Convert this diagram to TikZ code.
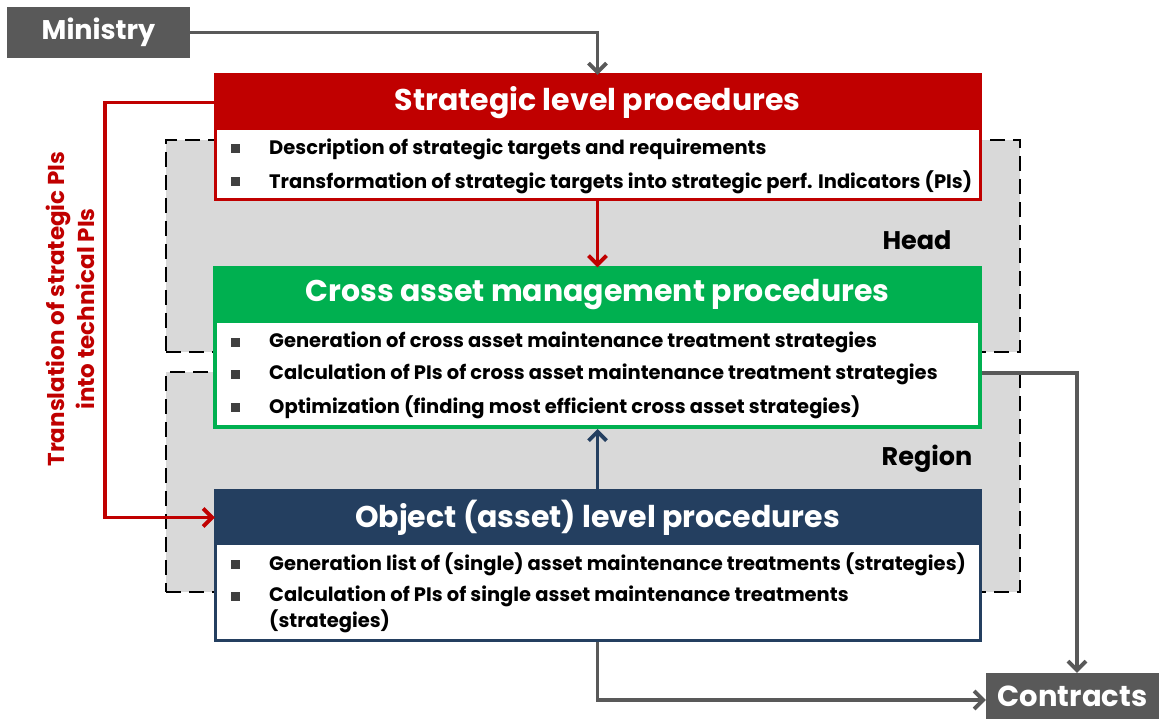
\documentclass[tikz,border=0pt]{standalone}
\usepackage{fontspec}
\setmainfont{Poppins}
\usetikzlibrary{arrows.meta,calc}
\definecolor{cred}{HTML}{C00000}
\definecolor{cgreen}{HTML}{00B050}
\definecolor{cnavy}{HTML}{243F60}
\definecolor{cgray}{HTML}{595959}
\definecolor{cregion}{HTML}{D9D9D9}
\definecolor{cbul}{HTML}{404040}
\tikzset{
  box/.style={draw=#1, line width=3pt, fill=white, minimum width=765pt, inner sep=0pt},
  header/.style={fill=#1, minimum width=765pt, minimum height=55pt, inner sep=0pt, text=white,
    font=\bfseries\fontsize{30}{32}\selectfont},
  zone/.style={draw=black, fill=cregion, line width=2.2pt, dash pattern=on 15pt off 8pt},
  zonelabel/.style={font=\bfseries\fontsize{25.5}{28}\selectfont, text=black, inner sep=0pt},
  bul/.style={fill=cbul, minimum size=9pt, inner sep=0pt},
  btxt/.style={anchor=west, inner sep=0pt, align=left, text=black,
    font=\bfseries\fontsize{19.5}{26}\selectfont},
  graybox/.style={fill=cgray, inner sep=0pt, text=white},
  conn/.style={line width=3.8pt, draw=#1, -{Straight Barb[length=9pt,width=18pt,line width=3.8pt]}}
}
\newcommand{\bitem}[3]{%
  \node[bul] (#1b) at (235,#2) {};
  \node[btxt] (#1) at (269,#2) {#3};}
\begin{document}
\begin{tikzpicture}[x=1pt,y=-1pt]
\useasboundingbox[fill=white] (0,0) rectangle (1159,719);
% zones
\node[zone, minimum width=854pt, minimum height=212pt] (head) at (593,246) {};
\node[zone, minimum width=854pt, minimum height=220pt] (region) at (593,482) {};
\node[zonelabel] (headlbl) at (917,240) {Head};
\node[zonelabel] (regionlbl) at (927,459) {Region};
% ministry
\node[graybox, minimum width=183pt, minimum height=51pt, font=\bfseries\fontsize{27}{29}\selectfont] (ministry) at (98.5,32.5) {Ministry};
% strategic
\node[box=cred, minimum height=125pt] (strat) at (597.5,137.5) {};
\node[header=cred] (stratH) at (597.5,102.5) {Strategic level procedures};
\bitem{s1}{149}{Description of strategic targets and requirements}
\bitem{s2}{182}{Transformation of strategic targets into strategic perf. Indicators (PIs)}
% cross
\node[box=cgreen, line width=4pt, minimum height=159pt] (cross) at (597.5,347.5) {};
\node[header=cgreen] (crossH) at (597.5,295) {Cross asset management procedures};
\bitem{c1}{342}{Generation of cross asset maintenance treatment strategies}
\bitem{c2}{374}{Calculation of PIs of cross asset maintenance treatment strategies}
\bitem{c3}{407}{Optimization (finding most efficient cross asset strategies)}
% object
\node[box=cnavy, minimum height=150pt] (obj) at (597.5,565) {};
\node[header=cnavy] (objH) at (597.5,517.5) {Object (asset) level procedures};
\bitem{o1}{564}{Generation list of (single) asset maintenance treatments (strategies)}
\node[bul] (o2b) at (235,596) {};
\node[btxt] (o2) at (269,609) {Calculation of PIs of single asset maintenance treatments\\(strategies)};
% contracts
\node[graybox, minimum width=173pt, minimum height=46pt, font=\bfseries\fontsize{29}{31}\selectfont] (contracts) at (1072.5,696) {Contracts};
% rotated label
\node[rotate=90, align=center, text=cred, inner sep=0pt, font=\bfseries\fontsize{23}{30}\selectfont] (transl) at (70,309) {Translation of strategic PIs\\into technical PIs};
% connectors
\draw[conn=cgray] (ministry.east) -| (stratH.north);
\draw[conn=cred] (strat.south) -- (crossH.north);
\draw[conn=cnavy] (objH.north) -- (cross.south);
\draw[conn=cred] (stratH.west) -- ++(-110,0) |- (objH.west);
\draw[conn=cgray] ([yshift=-25.5pt]cross.east) -| ([xshift=4.5pt]contracts.north);
\draw[conn=cgray] (obj.south) |- ([yshift=-4pt]contracts.west);
\end{tikzpicture}
\end{document}
